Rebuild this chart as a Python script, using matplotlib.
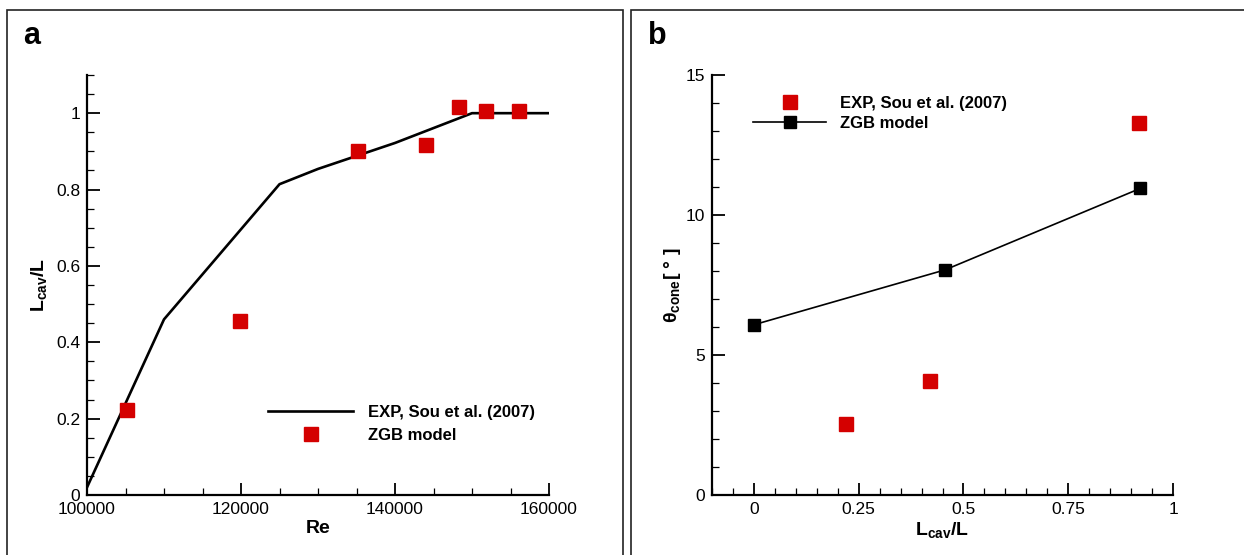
import matplotlib.pyplot as plt
from matplotlib.patches import Rectangle
from matplotlib.ticker import MultipleLocator

plt.rcParams['font.family'] = ['Liberation Sans', 'DejaVu Sans']
plt.rcParams['mathtext.fontset'] = 'custom'
plt.rcParams['mathtext.rm'] = 'Liberation Sans'
plt.rcParams['mathtext.it'] = 'Liberation Sans'
plt.rcParams['mathtext.bf'] = 'Liberation Sans:bold'

# panel a data
re_line = [100000, 110000, 125000, 130000, 140000, 150000, 160000]
lcav_line = [0.02, 0.46, 0.814, 0.854, 0.922, 1.0, 1.0]
re_pts = [105200, 119900, 135200, 144000, 148300, 151800, 156100]
lcav_pts = [0.222, 0.457, 0.902, 0.916, 1.015, 1.007, 1.007]

# panel b data
lcav_exp = [0.22, 0.42, 0.918]
theta_exp = [2.55, 4.07, 13.28]
lcav_zgb = [0.0, 0.456, 0.922]
theta_zgb = [6.08, 8.04, 10.95]

a_xticks = [100000, 120000, 140000, 160000]
a_yticks = [0, 0.2, 0.4, 0.6, 0.8, 1]
a_yticklabels = ['0', '0.2', '0.4', '0.6', '0.8', '1']
b_xticks = [0, 0.25, 0.5, 0.75, 1]
b_xticklabels = ['0', '0.25', '0.5', '0.75', '1']
b_yticks = [0, 5, 10, 15]

red = '#d40000'
W, H = 1244, 555

fig = plt.figure(figsize=(12.44, 5.55), dpi=100)

# panel frames
fig.patches.append(Rectangle((7 / W, -0.05), 616 / W, 1.05 - 10 / H, transform=fig.transFigure,
                             fill=False, edgecolor='#222222', linewidth=1.2))
fig.patches.append(Rectangle((631.5 / W, -0.05), 0.5, 1.05 - 10 / H, transform=fig.transFigure,
                             fill=False, edgecolor='#222222', linewidth=1.2))


def style_axes(ax):
    ax.spines['top'].set_visible(False)
    ax.spines['right'].set_visible(False)
    ax.spines['left'].set_linewidth(1.6)
    ax.spines['bottom'].set_linewidth(1.6)
    ax.tick_params(which='major', direction='in', length=9, width=1.3, labelsize=12.5, pad=5)
    ax.tick_params(which='minor', direction='in', length=5, width=0.9)


# panel a
ax1 = fig.add_axes([87 / W, 60 / H, 462 / W, 420 / H])
ax1.plot(re_line, lcav_line, color='black', linewidth=1.9, label='EXP, Sou et al. (2007)')
ax1.plot(re_pts, lcav_pts, 's', color=red, markersize=9.5, linestyle='none', label='ZGB model')
ax1.set_xlim(100000, 160000)
ax1.set_ylim(0, 1.1)
ax1.set_xticks(a_xticks)
ax1.set_yticks(a_yticks)
ax1.set_yticklabels(a_yticklabels)
ax1.xaxis.set_minor_locator(MultipleLocator(5000))
ax1.yaxis.set_minor_locator(MultipleLocator(0.05))
style_axes(ax1)
ax1.set_xlabel('Re', fontsize=14, fontweight='bold', labelpad=2)
ax1.set_ylabel(r'$\mathbf{L_{cav}/L}$', fontsize=14, labelpad=5)
ax1.legend(loc='upper left', bbox_to_anchor=(268 / W, 1 - 405 / H), bbox_transform=fig.transFigure,
           frameon=False, prop={'weight': 'bold', 'size': 12}, handlelength=5.1, handletextpad=0.9,
           labelspacing=0.45, borderpad=0, borderaxespad=0)
fig.text(23 / W, 1 - 44 / H, 'a', fontsize=22, fontweight='bold')

# panel b
ax2 = fig.add_axes([712 / W, 60 / H, 461 / W, 420 / H])
ax2.plot(lcav_exp, theta_exp, 's', color=red, markersize=9.5, linestyle='none',
         label='EXP, Sou et al. (2007)')
ax2.plot(lcav_zgb, theta_zgb, 's-', color='black', markersize=8, linewidth=1.2, label='ZGB model')
ax2.set_xlim(-0.1, 1)
ax2.set_ylim(0, 15)
ax2.set_xticks(b_xticks)
ax2.set_xticklabels(b_xticklabels)
ax2.set_yticks(b_yticks)
ax2.xaxis.set_minor_locator(MultipleLocator(0.05))
ax2.yaxis.set_minor_locator(MultipleLocator(1))
style_axes(ax2)
ax2.set_xlabel(r'$\mathbf{L_{cav}/L}$', fontsize=14, labelpad=2)
ax2.set_ylabel(r'$\mathbf{\theta_{cone}}$[ ° ]', fontsize=14, fontweight='bold', labelpad=2)
ax2.legend(loc='upper left', bbox_to_anchor=(753 / W, 1 - 96 / H), bbox_transform=fig.transFigure,
           frameon=False, prop={'weight': 'bold', 'size': 12}, handlelength=4.4, handletextpad=0.8,
           labelspacing=0.3, borderpad=0, borderaxespad=0)
fig.text(648 / W, 1 - 44 / H, 'b', fontsize=22, fontweight='bold')

fig.savefig('out.png', dpi=100)
